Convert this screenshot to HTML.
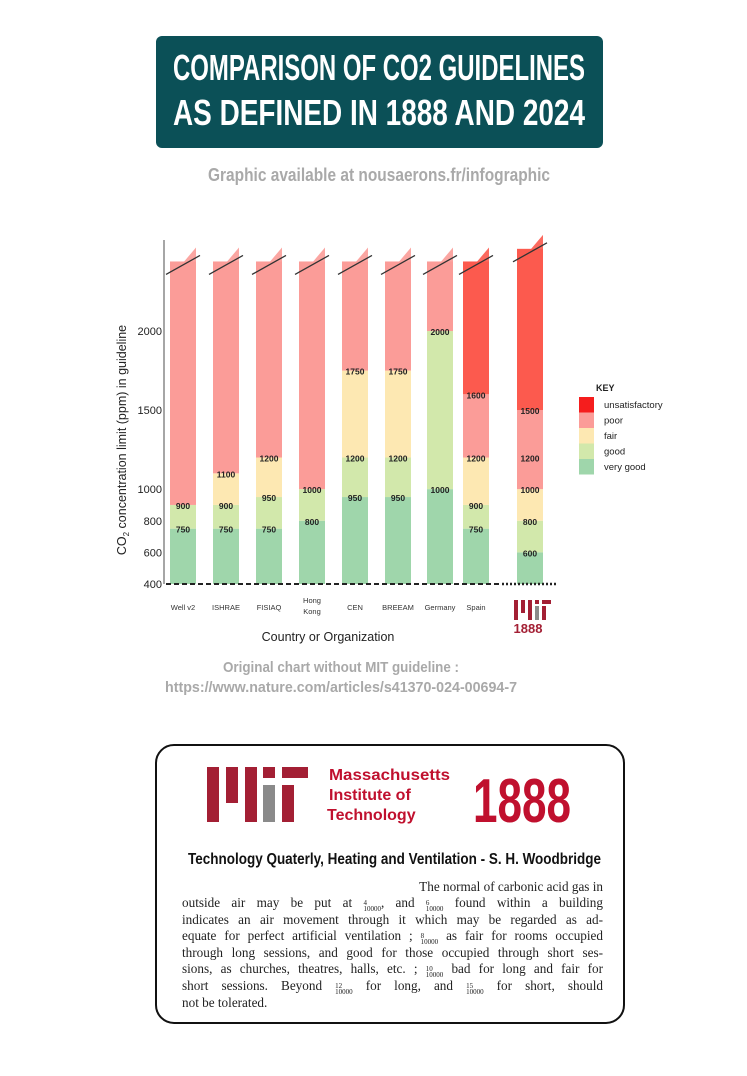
<!DOCTYPE html>
<html><head><meta charset="utf-8">
<style>
html,body{margin:0;padding:0;background:#fff;}
body{width:747px;height:1076px;position:relative;overflow:hidden;font-family:"Liberation Sans",sans-serif;}
svg{position:absolute;left:0;top:0;}
.para{position:absolute;left:182px;top:879px;width:421px;font-family:"Liberation Serif",serif;font-size:13.2px;line-height:15.9px;color:#222;}
.para div{text-align:justify;text-align-last:justify;white-space:nowrap;}
.para div.last{text-align-last:left;}
.fr{display:inline-block;font-size:7px;line-height:6px;vertical-align:-4px;text-align:center;}
</style></head><body>
<svg id="main" width="747" height="1076" viewBox="0 0 747 1076">
  <rect x="156" y="36" width="447" height="112" rx="6" fill="#0b5057"/>
  <text x="379" y="80" text-anchor="middle" fill="#fff" font-family="'Liberation Sans Narrow','Liberation Sans',sans-serif" font-weight="bold" font-size="36" textLength="412" lengthAdjust="spacingAndGlyphs">COMPARISON OF CO2 GUIDELINES</text>
  <text x="379" y="125" text-anchor="middle" fill="#fff" font-family="'Liberation Sans Narrow','Liberation Sans',sans-serif" font-weight="bold" font-size="36" textLength="412" lengthAdjust="spacingAndGlyphs">AS DEFINED IN 1888 AND 2024</text>
  <text x="379" y="181" text-anchor="middle" fill="#a9a9a9" font-family="'Liberation Sans Narrow','Liberation Sans',sans-serif" font-weight="bold" font-size="18" textLength="342" lengthAdjust="spacingAndGlyphs">Graphic available at nousaerons.fr/infographic</text>
  <g id="chart"></g>
  <text x="341" y="672" text-anchor="middle" fill="#a9a9a9" font-family="'Liberation Sans Narrow','Liberation Sans',sans-serif" font-weight="bold" font-size="15" textLength="236" lengthAdjust="spacingAndGlyphs">Original chart without MIT guideline :</text>
  <text x="341" y="692" text-anchor="middle" fill="#a9a9a9" font-family="'Liberation Sans Narrow','Liberation Sans',sans-serif" font-weight="bold" font-size="15" textLength="352" lengthAdjust="spacingAndGlyphs">https://www.nature.com/articles/s41370-024-00694-7</text>
  <rect x="156" y="745" width="468" height="278" rx="18" fill="#fff" stroke="#111" stroke-width="2"/>
  <g fill="#a31f34">
    <rect x="207" y="767" width="12" height="55"/>
    <rect x="226" y="767" width="12" height="36"/>
    <rect x="245" y="767" width="12" height="55"/>
    <rect x="263" y="767" width="12" height="11"/>
    <rect x="263" y="785" width="12" height="37" fill="#8a8a8a"/>
    <rect x="282" y="767" width="26" height="11"/>
    <rect x="282" y="785" width="12" height="37"/>
  </g>
  <g font-family="'Liberation Sans',sans-serif" font-weight="bold" font-size="16" fill="#c0102e">
    <text x="329" y="780" textLength="121" lengthAdjust="spacingAndGlyphs">Massachusetts</text>
    <text x="329" y="800">Institute of</text>
    <text x="327" y="820">Technology</text>
  </g>
  <text x="473" y="822" fill="#c0102e" font-family="'Liberation Sans Narrow','Liberation Sans',sans-serif" font-weight="bold" font-size="62" textLength="98" lengthAdjust="spacingAndGlyphs">1888</text>
  <text x="188" y="864" fill="#111" font-family="'Liberation Sans Narrow','Liberation Sans',sans-serif" font-weight="bold" font-size="16" textLength="413" lengthAdjust="spacingAndGlyphs">Technology Quaterly, Heating and Ventilation - S. H. Woodbridge</text>
</svg>
<div class="para">
<div style="text-align:right;text-align-last:right">The normal of carbonic acid gas in</div>
<div>outside air may be put at <span class="fr">4<br>10000</span>, and <span class="fr">6<br>10000</span> found within a building</div>
<div>indicates an air movement through it which may be regarded as ad-</div>
<div>equate for perfect artificial ventilation ; <span class="fr">8<br>10000</span> as fair for rooms occupied</div>
<div>through long sessions, and good for those occupied through short ses-</div>
<div>sions, as churches, theatres, halls, etc. ; <span class="fr">10<br>10000</span> bad for long and fair for</div>
<div>short sessions. Beyond <span class="fr">12<br>10000</span> for long, and <span class="fr">15<br>10000</span> for short, should</div>
<div class="last">not be tolerated.</div>
</div>
<script>
const categories = ["Well v2","ISHRAE","FISIAQ","Hong Kong","CEN","BREEAM","Germany","Spain","MIT 1888"];
const veryGoodMax = [750,750,750,800,950,950,1000,750,600];
const goodMax     = [900,900,950,1000,1200,1200,2000,900,800];
const fairMax     = [null,1100,1200,null,1750,1750,null,1200,1000];
const poorMax     = [null,null,null,null,null,null,null,1600,1500];
const extraLabels = [[],[],[],[],[],[],[],[],[1200]];
const yTicks = [400,600,800,1000,1500,2000];
const legendKeys = ["unsatisfactory","poor","fair","good","very good"];

const NS="http://www.w3.org/2000/svg";
const g=document.getElementById('chart');
const y=v=>584-(v-400)*0.1581;
const barX=[170,213,256,299,342,385,427,463,517];
const BW=26, TOP=2440;
const col={vg:"#9fd6ab",good:"#d2e8ab",fair:"#fde8b2",poor:"#fb9c98",unsat:"#fc5a4e"};
function el(t,a,txt){const e=document.createElementNS(NS,t);for(const k in a)e.setAttribute(k,a[k]);if(txt!==undefined)e.textContent=txt;g.appendChild(e);return e;}

const ax=el('line',{x1:164,y1:240,x2:164,y2:584,stroke:'#888','stroke-width':1.5});


yTicks.forEach(v=>{
  const t=el('text',{x:162,y:y(v)+4,'text-anchor':'end','font-size':11,fill:'#222'},String(v));
  
  
});
const yt=el('text',{x:0,y:0,transform:'translate(126,440) rotate(-90)','text-anchor':'middle','font-size':12.5,fill:'#222'});


yt.innerHTML='CO<tspan font-size="8" dy="3">2</tspan><tspan dy="-3"> concentration limit (ppm) in guideline</tspan>';

categories.forEach((c,i)=>{
  const x=barX[i];
  const segs=[[400,veryGoodMax[i],col.vg],[veryGoodMax[i],goodMax[i],col.good]];
  let cur=goodMax[i];
  if(fairMax[i]!==null){segs.push([cur,fairMax[i],col.fair]);cur=fairMax[i];}
  if(poorMax[i]!==null){segs.push([cur,poorMax[i],col.poor]);segs.push([poorMax[i],TOP+(i===8?80:0),col.unsat]);}
  else segs.push([cur,TOP,col.poor]);
  segs.forEach(s=>{
    const r=el('rect',{x:x,y:y(s[1]),width:BW,height:y(s[0])-y(s[1]),fill:s[2]});
    
    
  });
  const top=y(TOP+(i===8?80:0));
  const tri=el('path',{d:`M${x+BW} ${top} L${x+BW} ${top-14} L${x+4} ${top+12} Z`,fill:i>=7?col.unsat:col.poor,opacity:0.9});
  
  
  const bk=el('line',{x1:x-4,y1:top+13,x2:x+BW+4,y2:top-6,stroke:'#333','stroke-width':1.3});
  
  
  const labs=[veryGoodMax[i],goodMax[i]];
  if(fairMax[i]!==null)labs.push(fairMax[i]);
  if(poorMax[i]!==null)labs.push(poorMax[i]);
  extraLabels[i].forEach(v=>labs.push(v));
  labs.forEach(v=>{
    const t=el('text',{x:x+BW/2,y:y(v)+4,'text-anchor':'middle','font-size':8.5,'font-weight':'bold',fill:'#222'},String(v));
    
    
  });
  if(i<8){
    const parts=c==="Hong Kong"?["Hong","Kong"]:[c];
    parts.forEach((p,k)=>{
      const t=el('text',{x:x+BW/2,y:(parts.length>1?603:610)+k*11,'text-anchor':'middle','font-size':7.5,fill:'#333'},p);
      
      
    });
  }
});
const bl=el('line',{x1:166,y1:584,x2:500,y2:584,stroke:'#222','stroke-width':2,'stroke-dasharray':'5,3'});


const bl2=el('line',{x1:502,y1:584,x2:556,y2:584,stroke:'#222','stroke-width':2.5,'stroke-dasharray':'2,2'});


const ml=el('g',{fill:'#a31f34'});


[[514,600,4,20],[521,600,4,13],[528,600,4,20],[535,600,4,4],[542,600,9,4],[542,606,4,14]].forEach(r=>{
  const e=document.createElementNS(NS,'rect');e.setAttribute('x',r[0]);e.setAttribute('y',r[1]);e.setAttribute('width',r[2]);e.setAttribute('height',r[3]);ml.appendChild(e);});
const gi=el('rect',{x:535,y:606,width:4,height:14,fill:'#8a8a8a'});


const my=el('text',{x:528,y:633,'text-anchor':'middle','font-size':13,'font-weight':'bold',fill:'#a31f34','font-family':"'Liberation Sans Narrow','Liberation Sans',sans-serif"},'1888');


const xt=el('text',{x:328,y:641,'text-anchor':'middle','font-size':12.5,fill:'#222'},'Country or Organization');


const kt=el('text',{x:596,y:391,'font-size':9,'font-weight':'bold',fill:'#222'},'KEY');


const lc=[col.unsat,col.poor,col.fair,col.good,col.vg];
legendKeys.forEach((k,i)=>{
  const r=el('rect',{x:579,y:397+i*15.5,width:15,height:15.5,fill:i===0?'#f51d1d':lc[i]});
  
  
  const t=el('text',{x:604,y:408+i*15.5,'font-size':9.5,fill:'#222'},k);
  
  
});
</script>
</body></html>
